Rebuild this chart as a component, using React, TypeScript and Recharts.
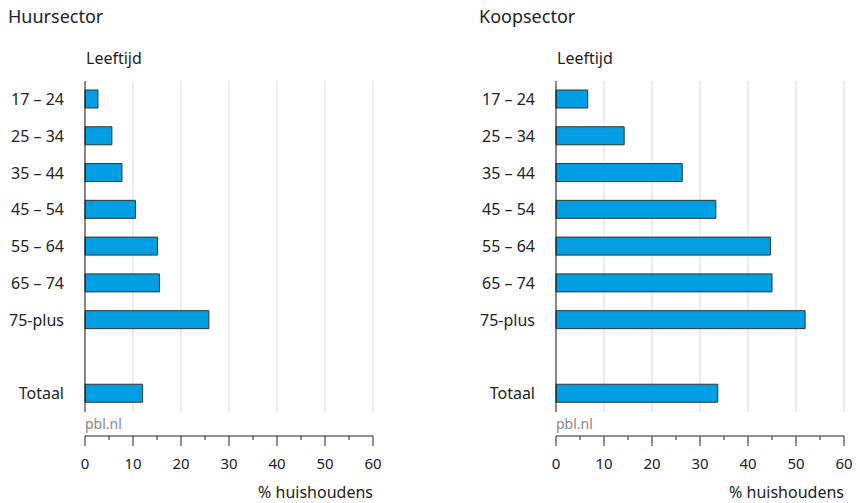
import React from 'react';
import { BarChart, Bar, XAxis, YAxis, CartesianGrid } from 'recharts';

// leeftijdsklassen (lege rij als scheiding voor Totaal)
const categories = ['17 – 24', '25 – 34', '35 – 44', '45 – 54', '55 – 64', '65 – 74', '75-plus', '', 'Totaal'];
const huurValues = [2.7, 5.6, 7.7, 10.5, 15.1, 15.5, 25.8, null, 12.0];
const koopValues = [6.6, 14.2, 26.3, 33.3, 44.7, 45.0, 51.9, null, 33.7];
const gridTicks = [10, 20, 30, 40, 50, 60];
const axisTicks = [0, 5, 10, 15, 20, 25, 30, 35, 40, 45, 50, 55, 60];

const FONT = '"Noto Sans", "Open Sans", sans-serif';
const BLUE = '#009FE3';

const AxisTick = (props: any) => {
  const { x, y, payload } = props;
  const major = payload.value % 10 === 0;
  return (
    <g>
      <line x1={x} x2={x} y1={y} y2={y + (major ? 10 : 4)} stroke="#222" strokeWidth={1} />
      {major && (
        <text x={x} y={y + 33} textAnchor="middle" fontSize={15} fill="#222" fontFamily={FONT}>
          {payload.value}
        </text>
      )}
    </g>
  );
};

interface PanelProps {
  title: string;
  titleLeft: number;
  values: (number | null)[];
  left: number;
  yAxisWidth: number;
  rightMargin: number;
}

const Panel: React.FC<PanelProps> = ({ title, titleLeft, values, left, yAxisWidth, rightMargin }) => {
  const data = categories.map((name, i) => ({ name, value: values[i] }));
  const width = 430;
  const plotLeft = left + yAxisWidth;
  const plotRight = left + width - rightMargin;
  return (
    <>
      <div style={{ position: 'absolute', left: titleLeft, top: 4, fontSize: 18, color: '#222', fontFamily: FONT }}>
        {title}
      </div>
      <div style={{ position: 'absolute', left: plotLeft + 1, top: 47, fontSize: 16, color: '#222', fontFamily: FONT }}>
        Leeftijd
      </div>
      <div style={{ position: 'absolute', left: plotLeft, top: 414, fontSize: 14, color: '#888', fontFamily: FONT }}>
        pbl.nl
      </div>
      <div style={{ position: 'absolute', left: plotRight - 200, width: 200, textAlign: 'right', top: 481, fontSize: 16, color: '#222', fontFamily: FONT }}>
        % huishoudens
      </div>
      <div style={{ position: 'absolute', left, top: 0 }}>
        <BarChart
          width={width}
          height={503}
          data={data}
          layout="vertical"
          margin={{ top: 81, right: rightMargin, bottom: 0, left: 0 }}
        >
          <CartesianGrid xAxisId="main" horizontal={false} verticalValues={gridTicks} stroke="#dcdcdc" />
          {/* lege as: schuift de echte x-as 24px omlaag */}
          <XAxis
            xAxisId="aSpacer"
            type="number"
            domain={[0, 60]}
            height={24}
            axisLine={false}
            tickLine={false}
            tick={false}
          />
          <XAxis
            xAxisId="main"
            type="number"
            domain={[0, 60]}
            ticks={axisTicks}
            height={67}
            interval={0}
            tickSize={0}
            tickMargin={0}
            tickLine={false}
            axisLine={{ stroke: '#222' }}
            tick={<AxisTick />}
          />
          <YAxis
            type="category"
            dataKey="name"
            width={yAxisWidth}
            tickLine={false}
            tickSize={0}
            tickMargin={21}
            axisLine={{ stroke: '#111' }}
            interval={0}
            tick={{ fontSize: 16, fill: '#222', fontFamily: FONT }}
          />
          <Bar
            xAxisId="main"
            dataKey="value"
            fill={BLUE}
            stroke="#333"
            strokeWidth={1}
            barSize={18}
            isAnimationActive={false}
          />
        </BarChart>
      </div>
    </>
  );
};

export default function App() {
  return (
    <div style={{ position: 'absolute', left: 0, top: 0, width: 860, height: 503, background: '#fff' }}>
      <Panel title="Huursector" titleLeft={8} values={huurValues} left={0} yAxisWidth={85} rightMargin={57} />
      <Panel title="Koopsector" titleLeft={479} values={koopValues} left={430} yAxisWidth={126} rightMargin={16} />
    </div>
  );
}
